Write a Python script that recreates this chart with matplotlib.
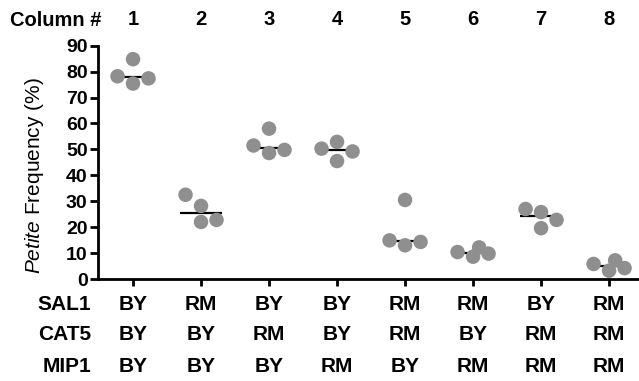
import numpy as np
import matplotlib
matplotlib.use("Agg")
import matplotlib.pyplot as plt

plt.rcParams['font.family'] = ['Liberation Sans', 'DejaVu Sans']
plt.rcParams['mathtext.fontset'] = 'custom'
plt.rcParams['mathtext.it'] = 'Liberation Sans:italic'
plt.rcParams['mathtext.rm'] = 'Liberation Sans'

columns = [1, 2, 3, 4, 5, 6, 7, 8]
petite = [
    [78.2, 84.8, 75.4, 77.4],
    [32.5, 28.2, 22.0, 22.8],
    [51.5, 58.0, 48.6, 49.8],
    [50.3, 52.9, 45.5, 49.2],
    [30.5, 14.9, 13.0, 14.3],
    [9.8, 8.6, 12.2, 10.4],
    [27.0, 25.8, 19.6, 22.8],
    [5.8, 3.2, 7.2, 4.2],
]
genes = ['SAL1', 'CAT5', 'MIP1']
genotypes = [
    ['BY', 'RM', 'BY', 'BY', 'RM', 'RM', 'BY', 'RM'],
    ['BY', 'BY', 'RM', 'BY', 'RM', 'BY', 'RM', 'RM'],
    ['BY', 'BY', 'BY', 'RM', 'BY', 'RM', 'RM', 'RM'],
]


def swarm(vals, diam, py_per_val):
    # place dots in value order: centre if free, else alternate sides
    order = np.argsort(vals, kind='stable')
    placed = []
    dxs = np.zeros(len(vals))
    side = 1
    for i in order:
        y = vals[i] * py_per_val

        def clear(dx):
            if not placed:
                return np.inf
            return min(np.hypot(dx - px, y - py) for px, py in placed)

        if clear(0) >= diam:
            dx = 0.0
        else:
            if clear(side * diam) >= diam:
                dx = side * diam
            else:
                cands = side * np.linspace(0, diam, 57)
                dx = max(cands, key=clear)
            side = -side
        placed.append((dx, y))
        dxs[i] = dx
    return dxs


W, H, DPI = 639, 381, 100
fig = plt.figure(figsize=(W / DPI, H / DPI), dpi=DPI)
ax = fig.add_axes([98 / W, 1 - 279 / H, 1 - 98 / W, (279 - 45.7) / H])

xlo, xhi = 0.485, 8.44
ax.set_xlim(xlo, xhi)
ax.set_ylim(0, 90)

ax_w_px = W * (1 - 98 / W)
ax_h_px = 279 - 45.7
px_per_col = ax_w_px / (xhi - xlo)
px_per_val = ax_h_px / 90.0
dot_px = 14.5
gap_px = 15.5

for c, vals in zip(columns, petite):
    vals = np.array(vals)
    dx = swarm(vals, gap_px, px_per_val) / px_per_col
    ax.scatter(c + dx, vals, s=(dot_px * 72 / DPI) ** 2, color='#8f8f8f',
               edgecolors='none', zorder=4, clip_on=False)
    med = np.median(vals)
    ax.plot([c - 0.31, c + 0.31], [med, med], color='black', lw=1.6,
            zorder=3, solid_capstyle='butt')

for side in ['top', 'right']:
    ax.spines[side].set_visible(False)
for side in ['left', 'bottom']:
    ax.spines[side].set_linewidth(2.0)

ax.set_yticks(range(0, 91, 10))
ax.set_xticks(columns)
ax.set_xticklabels([])
ax.tick_params(axis='y', length=6, width=2.0, labelsize=14, pad=1.5)
ax.tick_params(axis='x', length=5, width=2.0)
for lab in ax.get_yticklabels():
    lab.set_fontweight('bold')

trans = ax.get_xaxis_transform()
for c in columns:
    ax.text(c, 1.111, str(c), transform=trans, ha='center', va='center',
            fontsize=14.5, fontweight='bold')
fig.text(102 / W, 1 - 20 / H, 'Column #', ha='right', va='center',
         fontsize=14.5, fontweight='bold')

row_y = [305, 335, 366]
for gene, row, yp in zip(genes, genotypes, row_y):
    fig.text(91 / W, 1 - yp / H, gene, ha='right', va='center',
             fontsize=15, fontweight='bold')
    for c, g in zip(columns, row):
        ax.text(c, (279 - yp) / ax_h_px, g, transform=trans, ha='center',
                va='center', fontsize=15, fontweight='bold')

fig.text(35 / W, 1 - 176 / H, r'$\mathit{Petite}$ Frequency (%)',
         rotation=90, ha='center', va='center', fontsize=15)

fig.savefig('out.png', dpi=DPI)
